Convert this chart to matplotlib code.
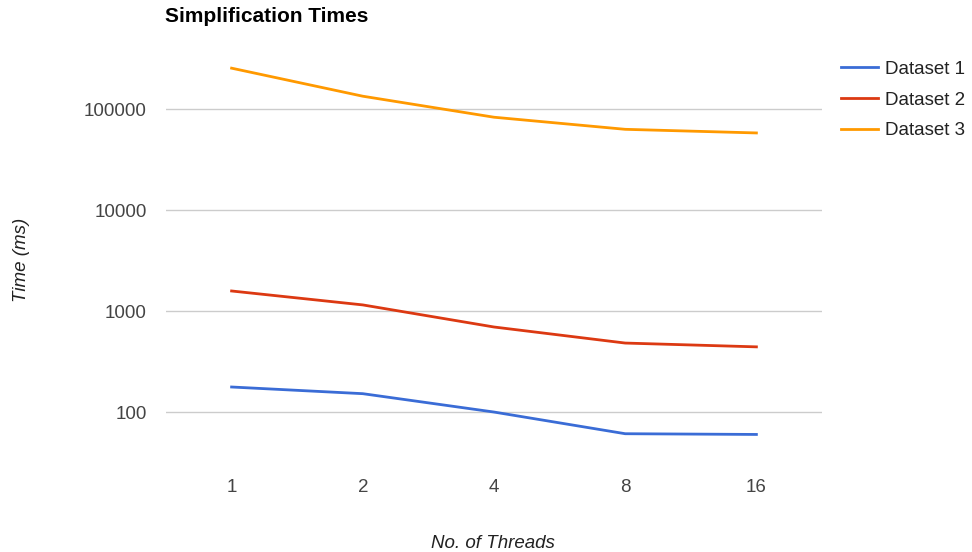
import matplotlib.pyplot as plt
from matplotlib.ticker import FixedLocator, NullLocator

plt.rcParams['font.family'] = ['Liberation Sans', 'DejaVu Sans']

threads = ["1", "2", "4", "8", "16"]
dataset1 = [177, 152, 100, 61, 60]
dataset2 = [1580, 1150, 695, 482, 442]
dataset3 = [254000, 134000, 83000, 63000, 58000]
series_names = ["Dataset 1", "Dataset 2", "Dataset 3"]
colors = ["#3a6cd6", "#dc3912", "#ff9900"]
yticks = [100, 1000, 10000, 100000]

fig = plt.figure(figsize=(9.72, 5.52), dpi=100)
ax = fig.add_axes([166 / 972, 87 / 552, 656 / 972, 430 / 552])

x = list(range(len(threads)))
for vals, name, c in zip([dataset1, dataset2, dataset3], series_names, colors):
    ax.plot(x, vals, color=c, linewidth=2.0, label=name, solid_joinstyle='round')

ax.set_yscale('log')
ax.set_ylim(29.9, 541000)
ax.set_xlim(-0.5, len(threads) - 0.5)
ax.yaxis.set_major_locator(FixedLocator(yticks))
ax.yaxis.set_minor_locator(NullLocator())
ax.set_yticklabels([str(v) for v in yticks])
ax.set_xticks(x)
ax.set_xticklabels(threads)
ax.grid(axis='y', color='#cccccc', linewidth=1)
ax.set_axisbelow(True)
for s in ax.spines.values():
    s.set_visible(False)
ax.tick_params(length=0, labelsize=13.5, colors='#444444')
ax.tick_params(axis='y', pad=14)
ax.tick_params(axis='x', pad=10)

fig.text(165 / 972, 1 - 17 / 552, "Simplification Times", fontsize=15,
         fontweight='bold', va='center', ha='left')
fig.text(21 / 972, 1 - 260 / 552, "Time (ms)", fontsize=13.5, style='italic',
         color='#222222', rotation=90, va='center', ha='center')
fig.text(493 / 972, 1 - 543 / 552, "No. of Threads", fontsize=13.5, style='italic',
         color='#222222', va='center', ha='center')

ax.legend(loc='upper left', bbox_to_anchor=(824 / 972, 1 - 44 / 552),
          bbox_transform=fig.transFigure, frameon=False, fontsize=13.5,
          handlelength=2.0, handletextpad=0.37, labelspacing=0.72,
          labelcolor='#222222')

plt.savefig("out.png", dpi=100)
